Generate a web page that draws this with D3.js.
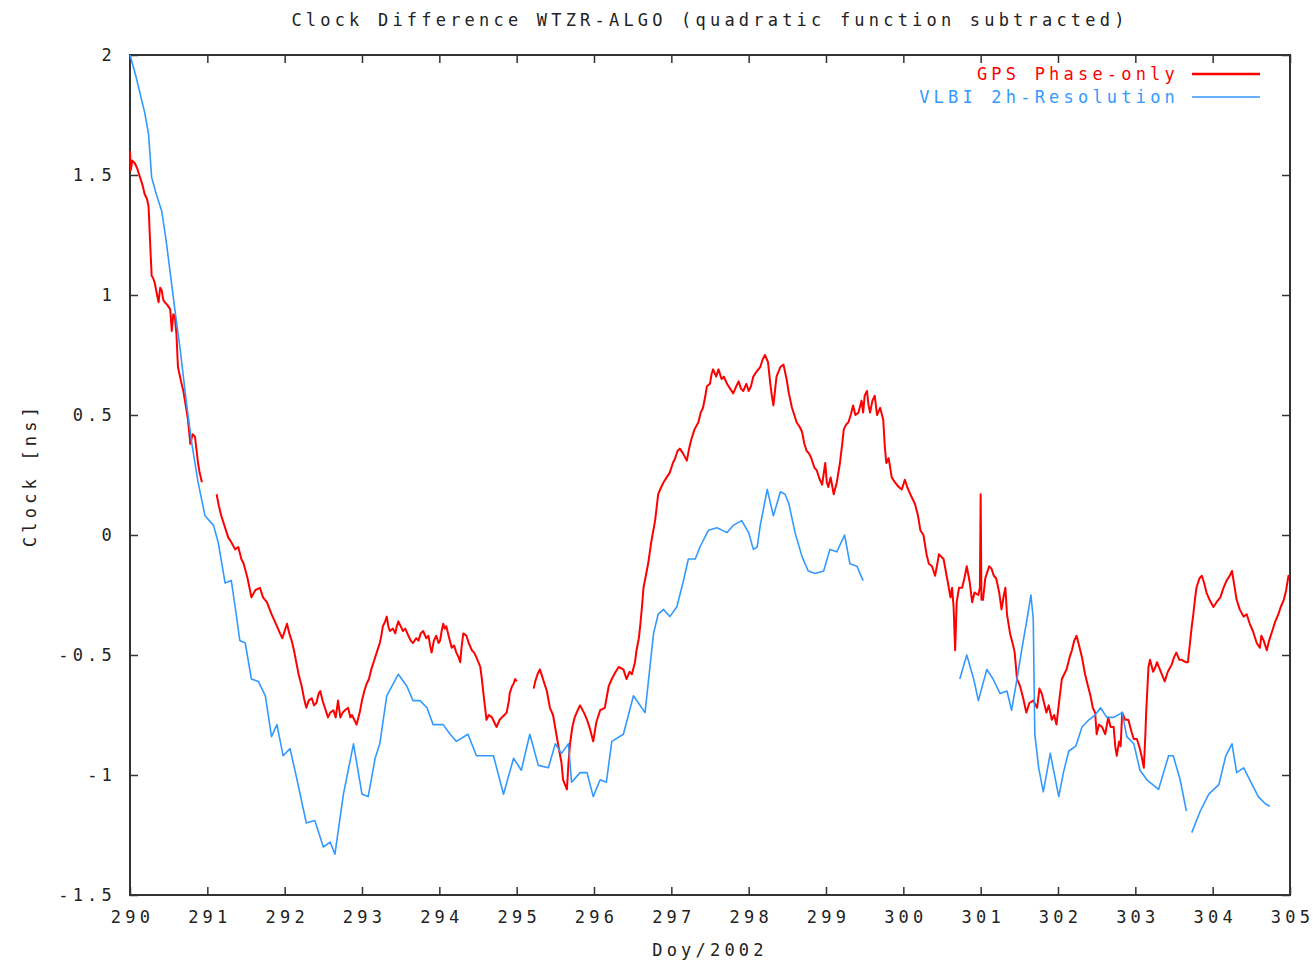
<!DOCTYPE html>
<html>
<head>
<meta charset="utf-8">
<script src="https://cdn.jsdelivr.net/npm/d3@7"></script>
<style>
  body { margin: 0; background: #fff; }
  svg text { font-family: "DejaVu Sans Mono", monospace; font-size: 17px; letter-spacing: 4.2px; fill: #222; }
</style>
</head>
<body>
<svg id="chart" width="1316" height="963"></svg>
<script>
// GPS phase-only clock difference [doy, ns]; null value = data gap
const gpsPoints = [
  [290.00, 1.60], [290.01, 1.52], [290.03, 1.56], [290.06, 1.55], [290.09, 1.53],
  [290.13, 1.49], [290.16, 1.46], [290.19, 1.42], [290.22, 1.40], [290.24, 1.37],
  [290.26, 1.22], [290.28, 1.08], [290.30, 1.07], [290.32, 1.05], [290.35, 1.00],
  [290.37, 0.97], [290.39, 1.03], [290.41, 1.02], [290.43, 0.98], [290.45, 0.97],
  [290.48, 0.96], [290.52, 0.94], [290.54, 0.85], [290.56, 0.92], [290.58, 0.91],
  [290.60, 0.84], [290.62, 0.70], [290.66, 0.64], [290.69, 0.60], [290.73, 0.52],
  [290.75, 0.48], [290.78, 0.38], [290.81, 0.42], [290.84, 0.41], [290.88, 0.30],
  [290.90, 0.26], [290.93, 0.22],
  [291.03, null],
  [291.12, 0.17], [291.15, 0.12], [291.18, 0.08], [291.22, 0.04], [291.27, -0.01],
  [291.31, -0.03], [291.36, -0.06], [291.40, -0.05], [291.44, -0.10], [291.47, -0.12],
  [291.52, -0.18], [291.57, -0.26], [291.62, -0.23], [291.68, -0.22], [291.72, -0.26],
  [291.77, -0.28], [291.83, -0.33], [291.90, -0.38], [291.94, -0.41], [291.97, -0.43],
  [292.00, -0.40], [292.03, -0.37], [292.06, -0.41], [292.09, -0.44], [292.12, -0.48],
  [292.15, -0.53], [292.18, -0.58], [292.22, -0.63], [292.25, -0.68], [292.28, -0.72],
  [292.31, -0.69], [292.35, -0.68], [292.38, -0.71], [292.41, -0.70], [292.44, -0.66],
  [292.46, -0.65], [292.49, -0.69], [292.52, -0.72], [292.56, -0.76], [292.59, -0.74],
  [292.63, -0.73], [292.66, -0.76], [292.69, -0.69], [292.72, -0.76], [292.75, -0.74],
  [292.78, -0.73], [292.82, -0.72], [292.85, -0.76], [292.87, -0.75], [292.90, -0.77],
  [292.93, -0.79], [292.97, -0.74], [293.00, -0.69], [293.03, -0.65], [293.06, -0.62],
  [293.09, -0.60], [293.12, -0.56], [293.16, -0.52], [293.19, -0.49], [293.23, -0.45],
  [293.25, -0.42], [293.27, -0.38], [293.30, -0.36], [293.32, -0.34], [293.34, -0.38],
  [293.36, -0.40], [293.40, -0.39], [293.43, -0.41], [293.45, -0.38], [293.47, -0.36],
  [293.50, -0.38], [293.53, -0.40], [293.56, -0.39], [293.60, -0.42], [293.63, -0.44],
  [293.66, -0.45], [293.70, -0.43], [293.73, -0.44], [293.76, -0.41], [293.79, -0.40],
  [293.83, -0.43], [293.86, -0.42], [293.88, -0.46], [293.90, -0.49], [293.93, -0.44],
  [293.96, -0.42], [293.99, -0.45], [294.01, -0.44], [294.03, -0.40], [294.05, -0.37],
  [294.07, -0.39], [294.09, -0.38], [294.12, -0.42], [294.16, -0.47], [294.19, -0.46],
  [294.22, -0.49], [294.25, -0.51], [294.27, -0.53], [294.29, -0.46], [294.31, -0.41],
  [294.35, -0.42], [294.38, -0.45], [294.42, -0.48], [294.45, -0.49], [294.48, -0.51],
  [294.53, -0.55], [294.55, -0.60], [294.57, -0.66], [294.61, -0.77], [294.64, -0.75],
  [294.68, -0.76], [294.71, -0.78], [294.74, -0.80], [294.78, -0.77], [294.81, -0.76],
  [294.84, -0.75], [294.87, -0.74], [294.90, -0.69], [294.91, -0.66], [294.94, -0.63],
  [294.96, -0.62], [294.98, -0.60], [295.00, -0.61],
  [295.10, null],
  [295.22, -0.64], [295.24, -0.61], [295.27, -0.58], [295.30, -0.56], [295.35, -0.61],
  [295.39, -0.65], [295.43, -0.72], [295.47, -0.75], [295.54, -0.88], [295.58, -0.95],
  [295.60, -1.02], [295.65, -1.06], [295.67, -0.95], [295.69, -0.87], [295.72, -0.80],
  [295.75, -0.76], [295.79, -0.73], [295.82, -0.71], [295.87, -0.74], [295.91, -0.77],
  [295.95, -0.81], [295.99, -0.86], [296.03, -0.78], [296.08, -0.73], [296.14, -0.72],
  [296.19, -0.63], [296.23, -0.60], [296.28, -0.57], [296.32, -0.55], [296.38, -0.56],
  [296.42, -0.60], [296.46, -0.57], [296.49, -0.58], [296.53, -0.53], [296.55, -0.48],
  [296.58, -0.43], [296.60, -0.37], [296.62, -0.30], [296.64, -0.22], [296.67, -0.17],
  [296.70, -0.12], [296.74, -0.03], [296.79, 0.06], [296.83, 0.17], [296.87, 0.20],
  [296.90, 0.22], [296.94, 0.24], [296.98, 0.26], [297.02, 0.30], [297.05, 0.32],
  [297.08, 0.35], [297.11, 0.36], [297.15, 0.34], [297.20, 0.31], [297.23, 0.36],
  [297.26, 0.40], [297.30, 0.44], [297.35, 0.47], [297.38, 0.51], [297.41, 0.53],
  [297.44, 0.58], [297.46, 0.62], [297.50, 0.63], [297.52, 0.67], [297.54, 0.69],
  [297.58, 0.66], [297.61, 0.69], [297.65, 0.65], [297.68, 0.66], [297.72, 0.63],
  [297.76, 0.61], [297.80, 0.59], [297.84, 0.62], [297.87, 0.64], [297.90, 0.61],
  [297.93, 0.60], [297.97, 0.63], [298.00, 0.60], [298.03, 0.62], [298.06, 0.66],
  [298.10, 0.68], [298.15, 0.70], [298.18, 0.73], [298.21, 0.75], [298.25, 0.72],
  [298.28, 0.63], [298.30, 0.58], [298.32, 0.54], [298.34, 0.60], [298.36, 0.66],
  [298.41, 0.70], [298.45, 0.71], [298.49, 0.65], [298.52, 0.59], [298.56, 0.53],
  [298.59, 0.50], [298.62, 0.47], [298.66, 0.45], [298.69, 0.43], [298.72, 0.38],
  [298.75, 0.35], [298.78, 0.34], [298.81, 0.32], [298.85, 0.28], [298.88, 0.27],
  [298.92, 0.23], [298.95, 0.21], [298.99, 0.30], [299.01, 0.22], [299.03, 0.20],
  [299.06, 0.24], [299.10, 0.17], [299.14, 0.22], [299.18, 0.30], [299.21, 0.38],
  [299.23, 0.44], [299.26, 0.46], [299.29, 0.47], [299.32, 0.50], [299.35, 0.54],
  [299.38, 0.50], [299.42, 0.51], [299.46, 0.56], [299.48, 0.51], [299.50, 0.58],
  [299.53, 0.60], [299.55, 0.54], [299.57, 0.51], [299.60, 0.56], [299.63, 0.58],
  [299.66, 0.50], [299.70, 0.53], [299.74, 0.48], [299.76, 0.37], [299.78, 0.30],
  [299.81, 0.32], [299.85, 0.24], [299.89, 0.22], [299.94, 0.20], [299.98, 0.19],
  [300.02, 0.23], [300.05, 0.20], [300.09, 0.17], [300.12, 0.15], [300.15, 0.13],
  [300.19, 0.08], [300.22, 0.02], [300.26, 0.00], [300.30, -0.08], [300.33, -0.12],
  [300.37, -0.13], [300.41, -0.17], [300.44, -0.12], [300.46, -0.08], [300.49, -0.09],
  [300.52, -0.10], [300.56, -0.17], [300.61, -0.26], [300.63, -0.22], [300.65, -0.30],
  [300.67, -0.48], [300.69, -0.28], [300.72, -0.22], [300.76, -0.22], [300.79, -0.18],
  [300.82, -0.13], [300.86, -0.20], [300.89, -0.28], [300.92, -0.24], [300.97, -0.25],
  [300.99, -0.22], [301.00, 0.17], [301.01, -0.27], [301.03, -0.27], [301.06, -0.18],
  [301.08, -0.16], [301.11, -0.13], [301.14, -0.14], [301.17, -0.17], [301.20, -0.18],
  [301.24, -0.24], [301.27, -0.31], [301.30, -0.25], [301.32, -0.22], [301.34, -0.33],
  [301.38, -0.41], [301.42, -0.46], [301.44, -0.49], [301.47, -0.60], [301.51, -0.63],
  [301.55, -0.68], [301.59, -0.74], [301.63, -0.70], [301.68, -0.69], [301.73, -0.72],
  [301.76, -0.64], [301.79, -0.66], [301.85, -0.74], [301.88, -0.71], [301.92, -0.77],
  [301.95, -0.75], [301.98, -0.79], [302.02, -0.68], [302.05, -0.60], [302.08, -0.58],
  [302.11, -0.56], [302.15, -0.51], [302.18, -0.48], [302.21, -0.44], [302.24, -0.42],
  [302.28, -0.47], [302.31, -0.51], [302.35, -0.58], [302.38, -0.62], [302.42, -0.67],
  [302.45, -0.72], [302.48, -0.74], [302.50, -0.83], [302.53, -0.79], [302.57, -0.80],
  [302.61, -0.83], [302.65, -0.76], [302.68, -0.80], [302.72, -0.80], [302.74, -0.88],
  [302.76, -0.92], [302.79, -0.86], [302.81, -0.88], [302.83, -0.74], [302.87, -0.77],
  [302.91, -0.77], [302.95, -0.82], [302.98, -0.85], [303.02, -0.85], [303.05, -0.88],
  [303.08, -0.92], [303.11, -0.97], [303.13, -0.83], [303.14, -0.74], [303.17, -0.55],
  [303.19, -0.52], [303.23, -0.57], [303.26, -0.55], [303.28, -0.53], [303.33, -0.57],
  [303.38, -0.61], [303.42, -0.57], [303.47, -0.54], [303.50, -0.51], [303.53, -0.49],
  [303.57, -0.52], [303.60, -0.52], [303.65, -0.53], [303.68, -0.53], [303.71, -0.44],
  [303.73, -0.38], [303.75, -0.33], [303.77, -0.27], [303.79, -0.22], [303.83, -0.18],
  [303.86, -0.17], [303.89, -0.20], [303.92, -0.24], [303.96, -0.27], [304.01, -0.30],
  [304.05, -0.28], [304.10, -0.26], [304.14, -0.22], [304.18, -0.19], [304.22, -0.17],
  [304.25, -0.15], [304.28, -0.21], [304.31, -0.27], [304.35, -0.31], [304.40, -0.34],
  [304.44, -0.33], [304.48, -0.37], [304.52, -0.40], [304.57, -0.45], [304.61, -0.47],
  [304.63, -0.42], [304.66, -0.44], [304.70, -0.48], [304.73, -0.44], [304.77, -0.40],
  [304.81, -0.36], [304.85, -0.33], [304.88, -0.30], [304.92, -0.27], [304.95, -0.23],
  [304.98, -0.17], [305.00, -0.17]
];

// VLBI 2h-resolution clock difference [doy, ns]; null value = data gap
const vlbiPoints = [
  [290.00, 2.00], [290.07, 1.92], [290.13, 1.84], [290.19, 1.76], [290.24, 1.67],
  [290.28, 1.49], [290.34, 1.42], [290.41, 1.35], [290.47, 1.22], [290.58, 0.94],
  [290.65, 0.77], [290.73, 0.55], [290.80, 0.38], [290.88, 0.22], [290.97, 0.08],
  [291.08, 0.04], [291.14, -0.03], [291.23, -0.20], [291.31, -0.19], [291.36, -0.30],
  [291.42, -0.44], [291.49, -0.45], [291.57, -0.60], [291.66, -0.61], [291.75, -0.67],
  [291.83, -0.84], [291.90, -0.79], [291.98, -0.92], [292.07, -0.89], [292.16, -1.02],
  [292.28, -1.20], [292.39, -1.19], [292.50, -1.30], [292.59, -1.28], [292.65, -1.33],
  [292.76, -1.08], [292.89, -0.87], [293.00, -1.08], [293.08, -1.09], [293.17, -0.93],
  [293.23, -0.87], [293.32, -0.67], [293.47, -0.58], [293.58, -0.63], [293.66, -0.69],
  [293.75, -0.69], [293.84, -0.72], [293.92, -0.79], [294.05, -0.79], [294.14, -0.83],
  [294.22, -0.86], [294.37, -0.83], [294.48, -0.92], [294.60, -0.92], [294.70, -0.92],
  [294.83, -1.08], [294.96, -0.93], [295.06, -0.98], [295.17, -0.83], [295.28, -0.96],
  [295.41, -0.97], [295.50, -0.87], [295.58, -0.91], [295.67, -0.87], [295.71, -1.03],
  [295.82, -0.99], [295.91, -0.99], [295.99, -1.09], [296.08, -1.02], [296.16, -1.03],
  [296.23, -0.86], [296.38, -0.83], [296.51, -0.67], [296.66, -0.74], [296.70, -0.62],
  [296.77, -0.41], [296.83, -0.33], [296.90, -0.31], [296.98, -0.34], [297.07, -0.30],
  [297.15, -0.20], [297.22, -0.10], [297.31, -0.10], [297.37, -0.05], [297.48, 0.02],
  [297.59, 0.03], [297.72, 0.01], [297.80, 0.04], [297.91, 0.06], [298.00, 0.01],
  [298.06, -0.06], [298.11, -0.05], [298.15, 0.04], [298.24, 0.19], [298.32, 0.08],
  [298.41, 0.18], [298.47, 0.17], [298.52, 0.13], [298.60, 0.01], [298.69, -0.09],
  [298.77, -0.15], [298.86, -0.16], [298.97, -0.15], [299.05, -0.06], [299.14, -0.07],
  [299.24, 0.00], [299.31, -0.12], [299.40, -0.13], [299.48, -0.19],
  [300.10, null],
  [300.73, -0.60], [300.82, -0.50], [300.91, -0.60], [300.97, -0.69], [301.08, -0.56],
  [301.16, -0.60], [301.25, -0.66], [301.34, -0.65], [301.40, -0.73], [301.47, -0.60],
  [301.53, -0.48], [301.60, -0.35], [301.65, -0.25], [301.68, -0.35], [301.70, -0.83],
  [301.75, -0.97], [301.81, -1.07], [301.90, -0.91], [302.01, -1.09], [302.07, -0.99],
  [302.14, -0.90], [302.23, -0.88], [302.31, -0.80], [302.40, -0.77], [302.48, -0.75],
  [302.55, -0.72], [302.63, -0.76], [302.72, -0.76], [302.83, -0.74], [302.89, -0.84],
  [302.98, -0.87], [303.06, -0.98], [303.15, -1.02], [303.30, -1.06], [303.43, -0.92],
  [303.49, -0.92], [303.58, -1.02], [303.66, -1.15],
  [303.70, null],
  [303.73, -1.24], [303.84, -1.15], [303.95, -1.08], [304.08, -1.04], [304.17, -0.92],
  [304.25, -0.87], [304.31, -0.99], [304.40, -0.97], [304.48, -1.02], [304.59, -1.09],
  [304.68, -1.12], [304.74, -1.13]
];

const xTicks = d3.range(290, 306, 1);
const yTicks = [-1.5, -1, -0.5, 0, 0.5, 1, 1.5, 2];

const seriesList = [
  { name: 'GPS Phase-only', points: gpsPoints, color: '#ff0000', width: 2 },
  { name: 'VLBI 2h-Resolution', points: vlbiPoints, color: '#3399ff', width: 1.6 }
];

const svg = d3.select('#chart');
const plotLeft = 130, plotRight = 1290, plotTop = 55, plotBottom = 895;

const x = d3.scaleLinear().domain([290, 305]).range([plotLeft, plotRight]);
const y = d3.scaleLinear().domain([-1.5, 2]).range([plotBottom, plotTop]);

// title and axis labels
svg.append('text')
  .attr('x', (plotLeft + plotRight) / 2)
  .attr('y', 26)
  .attr('text-anchor', 'middle')
  .text('Clock Difference WTZR-ALGO (quadratic function subtracted)');

svg.append('text')
  .attr('x', (plotLeft + plotRight) / 2)
  .attr('y', 956)
  .attr('text-anchor', 'middle')
  .text('Doy/2002');

svg.append('text')
  .attr('transform', 'translate(36,475) rotate(-90)')
  .attr('text-anchor', 'middle')
  .text('Clock [ns]');

// ticks, inward on all four sides
const tickLen = 8;
const xAxisBottom = d3.axisBottom(x).tickValues(xTicks).tickSize(-tickLen).tickPadding(16).tickFormat(d3.format('d'));
const xAxisTop = d3.axisTop(x).tickValues(xTicks).tickSize(-tickLen).tickFormat('');
const yAxisLeft = d3.axisLeft(y).tickValues(yTicks).tickSize(-tickLen).tickPadding(14).tickFormat(d => String(d));
const yAxisRight = d3.axisRight(y).tickValues(yTicks).tickSize(-tickLen).tickFormat('');

function styleAxis(g) {
  g.select('.domain').remove();
  g.selectAll('line').attr('stroke', '#333').attr('stroke-width', 1.5);
  g.selectAll('text')
    .attr('fill', '#222')
    .style('font-family', '"DejaVu Sans Mono", monospace')
    .style('font-size', '17px');
}

svg.append('g').attr('transform', `translate(0,${plotBottom})`).call(xAxisBottom).call(styleAxis)
  .selectAll('text').attr('dx', 2);
svg.append('g').attr('transform', `translate(0,${plotTop})`).call(xAxisTop).call(styleAxis);
svg.append('g').attr('transform', `translate(${plotLeft},0)`).call(yAxisLeft).call(styleAxis);
svg.append('g').attr('transform', `translate(${plotRight},0)`).call(yAxisRight).call(styleAxis);

// plot frame
svg.append('rect')
  .attr('x', plotLeft)
  .attr('y', plotTop)
  .attr('width', plotRight - plotLeft)
  .attr('height', plotBottom - plotTop)
  .attr('fill', 'none')
  .attr('stroke', '#333')
  .attr('stroke-width', 2);

// data lines
const line = d3.line()
  .defined(d => d[1] != null)
  .x(d => x(d[0]))
  .y(d => y(d[1]));

seriesList.forEach(s => {
  svg.append('path')
    .datum(s.points)
    .attr('fill', 'none')
    .attr('stroke', s.color)
    .attr('stroke-width', s.width)
    .attr('stroke-linejoin', 'round')
    .attr('d', line);
});

// legend
seriesList.forEach((s, i) => {
  const ly = 74 + i * 23;
  svg.append('text')
    .attr('x', 1179)
    .attr('y', ly + 6)
    .attr('text-anchor', 'end')
    .style('fill', s.color)
    .text(s.name);
  svg.append('line')
    .attr('x1', 1192)
    .attr('x2', 1260)
    .attr('y1', ly)
    .attr('y2', ly)
    .attr('stroke', s.color)
    .attr('stroke-width', i === 0 ? 2.5 : 1.6);
});
</script>
</body>
</html>
